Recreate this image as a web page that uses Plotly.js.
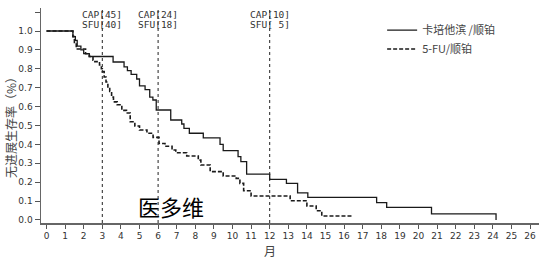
<!DOCTYPE html>
<html><head><meta charset="utf-8">
<script src="https://cdn.plot.ly/plotly-3.0.1.min.js"></script>
<style>html,body{margin:0;padding:0;background:#fff}#c{width:539px;height:262px}</style>
</head><body><div id="c"></div>
<script>
// 卡培他滨/顺铂 (step survival curve)
const capT = [0,1.42,1.55,1.65,1.85,2.0,2.3,3.58,4.17,4.35,4.55,4.85,5.0,5.3,5.55,5.72,5.9,6.68,7.27,7.39,7.68,8.43,9.33,9.5,10.3,10.45,10.76,12.0,12.9,13.5,14.05,17.75,18.29,20.7,24.17];
const capS = [1.0,0.97,0.95,0.92,0.90,0.88,0.865,0.836,0.81,0.79,0.77,0.746,0.71,0.69,0.65,0.635,0.582,0.529,0.508,0.485,0.459,0.435,0.40,0.367,0.335,0.309,0.243,0.215,0.194,0.144,0.12,0.092,0.067,0.032,0.0];
// 5-FU/顺铂
const fuT = [0,1.42,1.5,1.6,2.1,2.3,2.5,2.6,2.85,2.95,3.0,3.1,3.2,3.3,3.4,3.5,3.6,3.8,4.05,4.3,4.5,4.75,5.0,5.4,5.73,6.05,6.37,6.75,6.95,7.54,8.16,8.3,8.8,9.5,10.2,10.4,10.6,11.0,13.1,14.0,14.5,14.8,16.5];
const fuS = [1.0,0.97,0.94,0.905,0.88,0.865,0.845,0.838,0.82,0.80,0.785,0.757,0.73,0.70,0.68,0.65,0.625,0.61,0.58,0.566,0.52,0.497,0.476,0.459,0.437,0.405,0.39,0.37,0.356,0.339,0.317,0.291,0.256,0.233,0.22,0.194,0.155,0.127,0.102,0.074,0.049,0.021,0.021];
const seriesNames = ['卡培他滨 /顺铂','5-FU/顺铂'];
// reference lines & at-risk labels
const refX = [3,6,12];
const capRisk = ['CAP[45]','CAP[24]','CAP[10]'];
const fuRisk = ['SFU[40]','SFU[18]','SFU[ 5]'];
const xTicks = [0,1,2,3,4,5,6,7,8,9,10,11,12,13,14,15,16,17,18,19,20,21,22,23,24,25,26];
const yTicks = [0,0.1,0.2,0.3,0.4,0.5,0.6,0.7,0.8,0.9,1.0,1.1];
const yTickText = ['0.0','0.1','0.2','0.3','0.4','0.5','0.6','0.7','0.8','0.9','1.0',''];

const tickFont = {family:'DejaVu Sans, sans-serif', size:9, color:'#333'};
const riskFont = {family:'DejaVu Sans Mono, monospace', size:9.5, color:'#333'};
const cjk = 'Noto Sans CJK SC, sans-serif';

const traces = [
  {x:capT, y:capS, name:seriesNames[0], mode:'lines', line:{shape:'hv', color:'#1a1a1a', width:1.3}},
  {x:fuT, y:fuS, name:seriesNames[1], mode:'lines', line:{shape:'hv', color:'#1a1a1a', width:1.6, dash:'4px,2px'}}
];

const shapes = refX.map(v => ({type:'line', xref:'x', yref:'paper', x0:v, x1:v, y0:0, y1:1.0,
  line:{color:'#222', width:1, dash:'3px,3px'}}));

const annotations = [];
refX.forEach((v,i) => {
  annotations.push({x:v, y:1.087, xref:'x', yref:'y', text:capRisk[i], showarrow:false,
    font:riskFont, xanchor:'center', yanchor:'middle'});
  annotations.push({x:v, y:1.035, xref:'x', yref:'y', text:fuRisk[i], showarrow:false,
    font:riskFont, xanchor:'center', yanchor:'middle'});
});
// y title (paper coords: plot area px 41..539, py 8..223)
annotations.push({x:(10-41)/498, y:(223-125)/215, xref:'paper', yref:'paper', text:'无进展生存率（%）', textangle:-90,
  showarrow:false, xanchor:'center', yanchor:'middle', font:{family:cjk, size:12, color:'#444'}});
annotations.push({x:(136-41)/498, y:(223-206)/215, xref:'paper', yref:'paper', text:'医多维', showarrow:false,
  xanchor:'left', yanchor:'middle', font:{family:cjk, size:22, color:'#000'}});
annotations.push({x:(270-41)/498, y:(223-250)/215, xref:'paper', yref:'paper', text:'月', showarrow:false,
  xanchor:'center', yanchor:'middle', font:{family:cjk, size:12, color:'#444'}});

const layout = {
  width:539, height:262,
  margin:{l:41, r:0, t:8, b:39},
  paper_bgcolor:'#fff', plot_bgcolor:'#fff',
  showlegend:true,
  legend:{x:0.685, y:0.965, xanchor:'left', yanchor:'top', bgcolor:'rgba(0,0,0,0)',
    font:{family:cjk, size:11, color:'#444'}, tracegroupgap:0},
  xaxis:{range:[-0.296,26.48], tickvals:xTicks, ticks:'outside', ticklen:4, tickcolor:'#555',
    showline:true, linecolor:'#666', linewidth:1.5, showgrid:false, zeroline:false, tickfont:tickFont},
  yaxis:{range:[-0.0159,1.1217], tickvals:yTicks, ticktext:yTickText, ticks:'outside', ticklen:5, tickcolor:'#555',
    showline:true, linecolor:'#666', linewidth:1.5, showgrid:false, zeroline:false, tickfont:tickFont},
  shapes:shapes,
  annotations:annotations
};
Plotly.newPlot('c', traces, layout, {displayModeBar:false, staticPlot:true});
</script></body></html>
